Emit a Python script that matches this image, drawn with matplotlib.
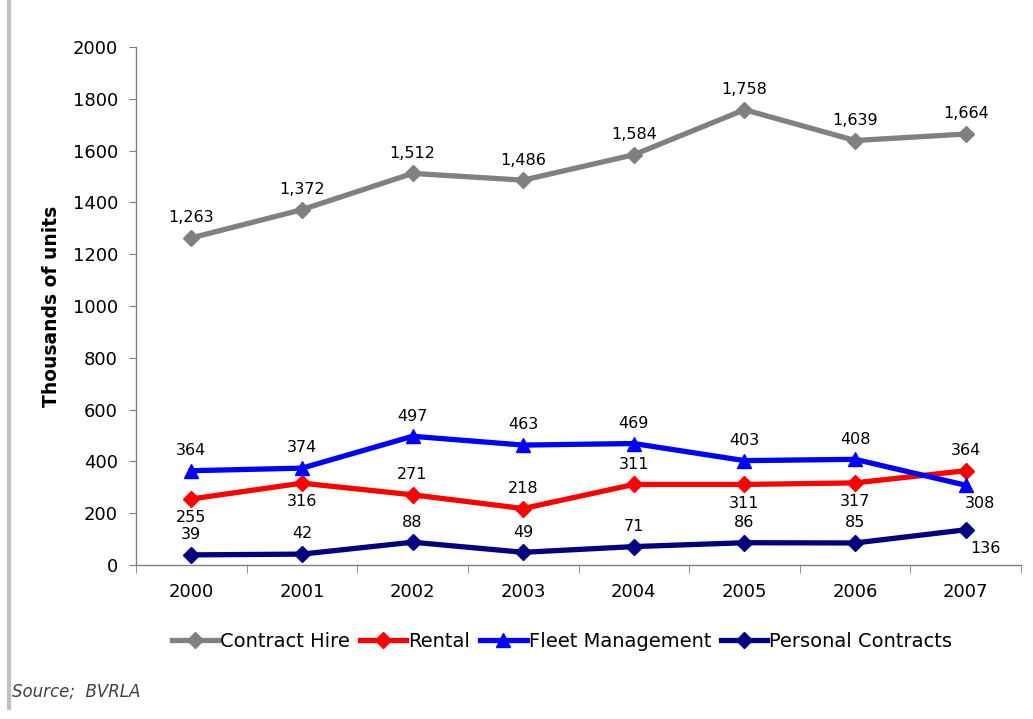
import matplotlib.pyplot as plt
import matplotlib.lines as mlines

years = ['2000', '2001', '2002', '2003', '2004', '2005', '2006', '2007']
contract_hire = [1263, 1372, 1512, 1486, 1584, 1758, 1639, 1664]
rental = [255, 316, 271, 218, 311, 311, 317, 364]
fleet_management = [364, 374, 497, 463, 469, 403, 408, 308]
personal_contracts = [39, 42, 88, 49, 71, 86, 85, 136]

# position des étiquettes : 1 = au-dessus, -1 = en dessous
rental_pos = [-1, -1, 1, 1, 1, -1, -1, 1]
fleet_pos = [1, 1, 1, 1, 1, 1, 1, -1]
personal_pos = [1, 1, 1, 1, 1, 1, 1, -1]

series = [
    ('Contract Hire', contract_hire, '#808080', 'D', [1] * 8),
    ('Rental', rental, '#ff0000', 'D', rental_pos),
    ('Fleet Management', fleet_management, '#0000ff', '^', fleet_pos),
    ('Personal Contracts', personal_contracts, '#000080', 'D', personal_pos),
]

fig = plt.figure(figsize=(10.33, 7.19), dpi=100)
ax = fig.add_axes([0.1317, 0.2142, 0.8567, 0.7204])

x = list(range(len(years)))
handles = []
for name, vals, color, marker, pos in series:
    ms = 10 if marker == '^' else 8.5
    ax.plot(x, vals, color=color, lw=3.8, marker=marker, ms=ms,
            markeredgecolor=color, zorder=3)
    handles.append(mlines.Line2D([], [], color=color, lw=3.8, marker=marker,
                                 ms=ms, label=name))
    for xi, v, p in zip(x, vals, pos):
        dx = 0
        if xi == 7 and p < 0:
            dx = 14 if name == 'Personal Contracts' else 10
        dy = 14.5 if p > 0 else -13.5
        ax.annotate(f'{v:,}', (xi, v), xytext=(dx, dy),
                    textcoords='offset points', ha='center', va='center',
                    fontsize=11.5, color='black')

ax.set_xlim(-0.5, 7.5)
ax.set_ylim(0, 2000)
ax.set_yticks(range(0, 2001, 200))
ax.set_xticks(x)
ax.set_xticklabels(years)
ax.set_xticks([i + 0.5 for i in range(-1, 8)], minor=True)
ax.tick_params(axis='x', which='major', length=0, pad=13, labelsize=13)
ax.tick_params(axis='x', which='minor', length=6, color='#808080')
ax.tick_params(axis='y', length=5, color='#808080', labelsize=13, pad=8)

for s in ['top', 'right']:
    ax.spines[s].set_visible(False)
for s in ['left', 'bottom']:
    ax.spines[s].set_color('#808080')
    ax.spines[s].set_linewidth(1)

ax.set_ylabel('Thousands of units', fontsize=13.5, fontweight='bold')
ax.yaxis.set_label_coords(-0.085, 0.5)

fig.legend(handles=handles, loc='center', bbox_to_anchor=(0.544, 0.108), ncol=4,
           frameon=False, prop={'size': 14},
           handlelength=2.4, handletextpad=0.1, columnspacing=0.5)

fig.text(0.012, 0.03, 'Source;  BVRLA', fontsize=12, style='italic', color='#404040')
fig.add_artist(mlines.Line2D([0.009, 0.009], [0.015, 1.0], color='#c0c0c0', lw=3,
                             transform=fig.transFigure))

fig.savefig('out.png', dpi=100)
